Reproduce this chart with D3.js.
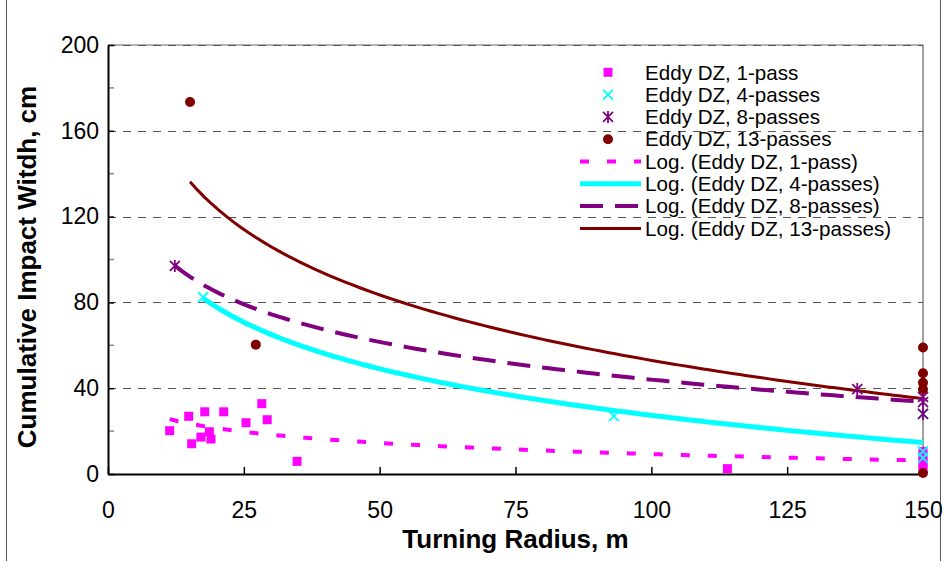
<!DOCTYPE html>
<html><head><meta charset="utf-8">
<script src="https://cdn.jsdelivr.net/npm/d3@7"></script>
<style>body{margin:0;background:#fff}svg{display:block}text{font-family:"Liberation Sans",Arial,sans-serif}</style>
</head><body>
<svg id="c" width="947" height="561"></svg>
<script>
// ---- data ----
const seriesNames = ["Eddy DZ, 1-pass","Eddy DZ, 4-passes","Eddy DZ, 8-passes","Eddy DZ, 13-passes"];
const pass1X = [11.35,14.85,17.8,21.3,15.4,17.1,18.65,18.95,25.4,28.3,29.3,34.8,114,150,150,150,150,150];
const pass1Y = [20.2,26.9,29.0,29.0,14.1,17.2,19.7,16.3,23.9,32.8,25.3,5.9,2.5,10.5,8.5,6.5,4.5,2.5];
const pass4X = [17.5,93.1,150,150,150];
const pass4Y = [82.5,27,28,10.5,7.5];
const pass8X = [12.3,137.9,150,150,150];
const pass8Y = [97,39.6,36,33.5,28];
const pass13X = [15.1,27.2,150,150,150,150,150];
const pass13Y = [173.4,60.3,59,47,42.5,39.5,0.5];
const xTicks = [0,25,50,75,100,125,150];
const yTicks = [0,40,80,120,160,200];
const yMinor = [20,60,100,140,180];
const xTitle = "Turning Radius, m";
const yTitle = "Cumulative Impact Witdh, cm";

const svg = d3.select("#c");
const x = d3.scaleLinear().domain([0,150]).range([108,923]);
const y = d3.scaleLinear().domain([0,200]).range([474,45]);

// outer chart frame (sides)
svg.append("line").attr("x1",6.5).attr("x2",6.5).attr("y1",0).attr("y2",561).attr("stroke","#555").attr("stroke-width",1);
svg.append("line").attr("x1",940.5).attr("x2",940.5).attr("y1",0).attr("y2",561).attr("stroke","#555").attr("stroke-width",1);

// plot border top/right
svg.append("line").attr("x1",x(0)).attr("x2",x(150)).attr("y1",y(200)).attr("y2",y(200)).attr("stroke","#999").attr("stroke-width",1.5);
svg.append("line").attr("x1",x(150)).attr("x2",x(150)).attr("y1",y(200)).attr("y2",y(0)).attr("stroke","#808080").attr("stroke-width",1.5);

// gridlines
svg.append("g").selectAll("line").data(yTicks.filter(d=>d>0)).join("line")
  .attr("x1",x(0)).attr("x2",x(150))
  .attr("y1",d=>Math.round(y(d))+0.5).attr("y2",d=>Math.round(y(d))+0.5)
  .attr("stroke","#555").attr("stroke-width",1.2).attr("stroke-dasharray","8,7");

// minor y ticks
svg.append("g").selectAll("line").data(yMinor).join("line")
  .attr("x1",x(0)).attr("x2",x(0)+6)
  .attr("y1",d=>y(d)).attr("y2",d=>y(d)).attr("stroke","#888").attr("stroke-width",1.5);

// axes
const yAxis = svg.append("g").attr("transform",`translate(${x(0)},0)`)
  .call(d3.axisLeft(y).tickValues(yTicks).tickSize(-6).tickSizeOuter(0).tickPadding(9));
const xAxis = svg.append("g").attr("transform",`translate(0,${y(0)})`)
  .call(d3.axisBottom(x).tickValues(xTicks).tickSize(-7).tickSizeOuter(0).tickPadding(28));
[yAxis,xAxis].forEach(g=>{
  g.select(".domain").attr("stroke","#000").attr("stroke-width",2);
  g.selectAll(".tick line").attr("stroke","#000").attr("stroke-width",1.5);
  g.selectAll("text").attr("font-size",23).attr("fill","#000").attr("font-family","Liberation Sans, Arial, sans-serif");
});

// titles
svg.append("text").attr("x",(x(0)+x(150))/2).attr("y",548).attr("text-anchor","middle")
  .attr("font-size",26).attr("font-weight","bold").text(xTitle);
svg.append("text").attr("transform","translate(36,267) rotate(-90)").attr("text-anchor","middle")
  .attr("font-size",26).attr("font-weight","bold").text(yTitle);

// log trendlines (least squares on ln x, as Excel does)
function logFit(xs, ys){
  const lx = xs.map(Math.log);
  const mx = d3.mean(lx), my = d3.mean(ys);
  const sxy = d3.sum(lx.map((v,i)=>(v-mx)*(ys[i]-my)));
  const sxx = d3.sum(lx.map(v=>(v-mx)*(v-mx)));
  const a = sxy/sxx, b = my - a*mx;
  const [lo,hi] = d3.extent(xs);
  return d3.range(0,101).map(i=>{const xv = lo+(hi-lo)*i/100; return [xv, a*Math.log(xv)+b];});
}
const line = d3.line().x(d=>x(d[0])).y(d=>y(d[1]));
const styles = [
  {c:"#FF00FF", w:4, dash:"9,18"},
  {c:"#00FFFF", w:5, dash:null},
  {c:"#800080", w:4, dash:"23,12"},
  {c:"#800000", w:3, dash:null}
];
const allX = [pass1X,pass4X,pass8X,pass13X], allY = [pass1Y,pass4Y,pass8Y,pass13Y];
allX.forEach((xs,i)=>{
  const p = svg.append("path").attr("d",line(logFit(xs,allY[i]))).attr("fill","none")
    .attr("stroke",styles[i].c).attr("stroke-width",styles[i].w);
  if(styles[i].dash) p.attr("stroke-dasharray",styles[i].dash);
});

// markers
function marker(g, kind, cx, cy){
  if(kind===0){ g.append("rect").attr("x",cx-4.5).attr("y",cy-4.5).attr("width",9).attr("height",9).attr("fill","#FF00FF"); }
  else if(kind===1){ g.append("path").attr("d",`M${cx-5},${cy-5}L${cx+5},${cy+5}M${cx-5},${cy+5}L${cx+5},${cy-5}`).attr("stroke","#00FFFF").attr("stroke-width",1.8); }
  else if(kind===2){ g.append("path").attr("d",`M${cx-5},${cy-5}L${cx+5},${cy+5}M${cx-5},${cy+5}L${cx+5},${cy-5}M${cx},${cy-6}L${cx},${cy+6}`).attr("stroke","#800080").attr("stroke-width",1.8); }
  else { g.append("circle").attr("cx",cx).attr("cy",cy).attr("r",5).attr("fill","#800000"); }
}
const mg = svg.append("g");
allX.forEach((xs,i)=>{ xs.forEach((xv,j)=>marker(mg,i,x(xv),y(allY[i][j]))); });

// legend
const lg = svg.append("g");
const rowY = d3.range(8).map(i=>72.3+i*22.3);
seriesNames.forEach((n,i)=>{
  marker(lg,i,608,rowY[i]);
  lg.append("text").attr("x",645).attr("y",rowY[i]).attr("dy","0.35em").attr("font-size",20.6).text(n);
});
seriesNames.forEach((n,i)=>{
  const ly = rowY[i+4];
  const p = lg.append("line").attr("x1",580).attr("x2",641).attr("y1",ly).attr("y2",ly)
    .attr("stroke",styles[i].c).attr("stroke-width",styles[i].w);
  if(styles[i].dash) p.attr("stroke-dasharray",styles[i].dash);
  lg.append("text").attr("x",645).attr("y",ly).attr("dy","0.35em").attr("font-size",20.6).text(`Log. (${n})`);
});
</script>
</body></html>
